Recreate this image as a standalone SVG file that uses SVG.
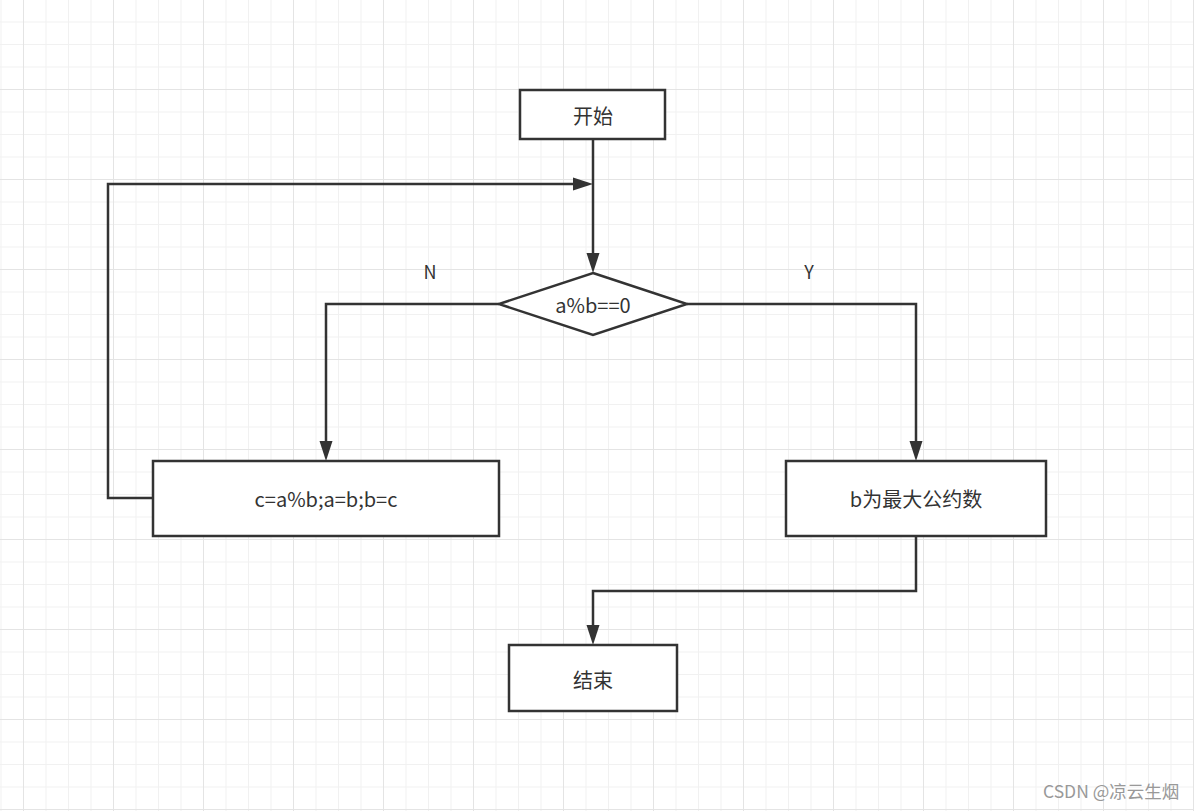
<svg xmlns="http://www.w3.org/2000/svg" width="1194" height="811" viewBox="0 0 1194 811">
<style>
.node{fill:#fff;stroke:#333;stroke-width:2.5}
.edge{fill:none;stroke:#333;stroke-width:2.5}
.lbl{font-family:"Noto Sans CJK SC","Noto Sans",sans-serif;font-size:20px;fill:#333;text-anchor:middle;dominant-baseline:central}
.yn{font-size:18px}
.wm{font-family:"Noto Sans CJK SC","Noto Sans",sans-serif;font-size:17.5px;fill:#999}
</style>
<defs>
<pattern id="minor" x="0.5" y="-1" width="22.5" height="22.5" patternUnits="userSpaceOnUse">
<rect x="0" y="0" width="1" height="22.5" fill="#f1f1f1"/>
<rect x="0" y="0" width="22.5" height="1" fill="#f1f1f1"/>
</pattern>
<pattern id="major" x="23" y="-1" width="90" height="90" patternUnits="userSpaceOnUse">
<rect x="0" y="0" width="1" height="90" fill="#e4e4e4"/>
<rect x="0" y="0" width="90" height="1" fill="#e4e4e4"/>
</pattern>
<marker id="arr" markerUnits="userSpaceOnUse" markerWidth="20" markerHeight="14" refX="10" refY="7" orient="auto">
<path d="M0,0.5 L20,7 L0,13.5 Z" fill="#333"/>
</marker>
</defs>
<rect width="1194" height="811" fill="#fff"/>
<rect width="1194" height="811" fill="url(#minor)"/>
<rect width="1194" height="811" fill="url(#major)"/>

<g id="connectors">
<path class="edge" d="M593,140 V263" marker-end="url(#arr)"/>
<path class="edge" d="M153,498 H108 V184 H583" marker-end="url(#arr)"/>
<path class="edge" d="M499,304 H326 V451" marker-end="url(#arr)"/>
<path class="edge" d="M687,304 H916 V451" marker-end="url(#arr)"/>
<path class="edge" d="M916,536 V591 H593 V635" marker-end="url(#arr)"/>
<text class="lbl yn" x="430" y="271">N</text>
<text class="lbl yn" x="809" y="271">Y</text>
</g>

<g id="start">
<rect class="node" x="520" y="90" width="145" height="49"/>
<text class="lbl" x="593" y="115">开始</text>
</g>
<g id="decision">
<polygon class="node" points="593,273 687,304 593,335 499,304"/>
<text class="lbl" x="593" y="304">a%b==0</text>
</g>
<g id="swap">
<rect class="node" x="153" y="461" width="346" height="75"/>
<text class="lbl" x="326" y="498">c=a%b;a=b;b=c</text>
</g>
<g id="result">
<rect class="node" x="786" y="461" width="260" height="75"/>
<text class="lbl" x="916" y="498">b为最大公约数</text>
</g>
<g id="end">
<rect class="node" x="509" y="645" width="168" height="66"/>
<text class="lbl" x="593" y="679">结束</text>
</g>
<text class="wm" x="1043" y="798">CSDN @凉云生烟</text>
</svg>
